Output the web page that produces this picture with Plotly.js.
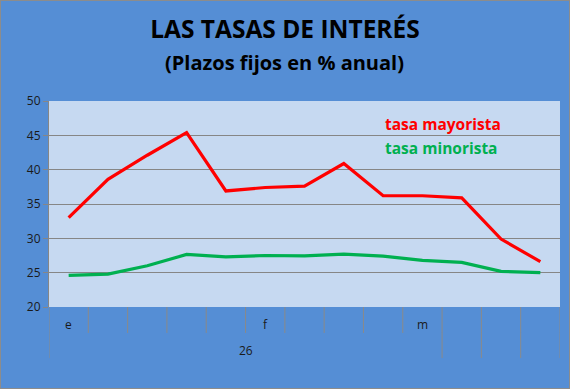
<!DOCTYPE html>
<html><head><meta charset="utf-8">
<script src="https://cdn.plot.ly/plotly-3.0.1.min.js"></script>
<style>body{margin:0;padding:0;}#wrap{position:relative;width:570px;height:389px;}#frame{position:absolute;left:0;top:0;width:570px;height:389px;box-sizing:border-box;border:1px solid #8c8c8c;pointer-events:none;}</style>
</head><body><div id="wrap"><div id="chart" style="width:570px;height:389px;"></div><div id="frame"></div></div>
<script>
const level1Labels = ["e","","","","","f","","","","m","","",""];
const level2Groups = [{label:"26", from:0, to:9},{label:"", from:10, to:10},{label:"", from:11, to:11},{label:"", from:12, to:12}];
const seriesNames = ["tasa mayorista","tasa minorista"];
const mayorista = [33.0,38.6,42.1,45.4,36.9,37.4,37.6,40.9,36.2,36.2,35.9,29.9,26.6];
const minorista = [24.6,24.8,26.0,27.65,27.3,27.5,27.45,27.7,27.4,26.8,26.5,25.2,25.0];
const colors = ["#FF0000","#00B050"];

const idx = level1Labels.map((_, i) => i);
const FONT = "Open Sans, Liberation Sans, sans-serif";

const traces = [
  {x: idx, y: mayorista, name: seriesNames[0], type: "scatter", mode: "lines", line: {color: colors[0], width: 3.2}},
  {x: idx, y: minorista, name: seriesNames[1], type: "scatter", mode: "lines", line: {color: colors[1], width: 3.2}}
];

const shapes = [];
const divColor = "#8a8a8a";
for (let i = 0; i <= level1Labels.length; i++) {
  shapes.push({type:"line", xref:"x", yref:"paper", x0:i-0.5, x1:i-0.5, y0:0, y1:-0.126, line:{color:divColor, width:1}});
}
const bounds = new Set();
level2Groups.forEach(g => { bounds.add(g.from - 0.5); bounds.add(g.to + 0.5); });
bounds.forEach(b => shapes.push({type:"line", xref:"x", yref:"paper", x0:b, x1:b, y0:-0.126, y1:-0.248, line:{color:divColor, width:1}}));

const annotations = [];
level1Labels.forEach((t, i) => { if (t) annotations.push({x:i, y:-0.085, xref:"x", yref:"paper", text:t, showarrow:false, font:{family:FONT, size:12, color:"#1a1a1a"}, yanchor:"middle"}); });
level2Groups.forEach(g => { if (g.label) annotations.push({x:(g.from+g.to)/2, y:-0.21, xref:"x", yref:"paper", text:g.label, showarrow:false, font:{family:FONT, size:12, color:"#1a1a1a"}, yanchor:"middle"}); });
annotations.push({x:0.654, y:0.888, xref:"paper", yref:"paper", xanchor:"left", yanchor:"middle", text:"<b>"+seriesNames[0]+"</b>", showarrow:false, font:{family:FONT, size:15.5, color:colors[0]}});
annotations.push({x:0.654, y:0.772, xref:"paper", yref:"paper", xanchor:"left", yanchor:"middle", text:"<b>"+seriesNames[1]+"</b>", showarrow:false, font:{family:FONT, size:15.5, color:colors[1]}});
annotations.push({x:(284-49)/511, y:(307-62)/206, xref:"paper", yref:"paper", xanchor:"center", yanchor:"middle", text:"<b>(Plazos fijos en % anual)</b>", showarrow:false, font:{family:FONT, size:20, color:"#000"}});

const layout = {
  width: 570, height: 389,
  margin: {l:49, r:10, t:101, b:82},
  paper_bgcolor: "#558ED5",
  plot_bgcolor: "#C6D9F1",
  showlegend: false,
  title: {text:"<b>LAS TASAS DE INTERÉS</b>", x:0.5, xanchor:"center", y:1-29/389, yanchor:"middle", yref:"container", font:{family:FONT, size:24.5, color:"#000"}},
  xaxis: {range:[-0.5, level1Labels.length-0.5], showticklabels:false, showgrid:false, zeroline:false, ticks:"", showline:false, fixedrange:true},
  yaxis: {range:[20,50], tickvals:[20,25,30,35,40,45,50], showgrid:true, gridcolor:"#868686", gridwidth:1, zeroline:false, showline:true, linecolor:"#868686", linewidth:1, ticks:"outside", ticklen:5, tickcolor:"#868686", tickfont:{family:FONT, size:12, color:"#1a1a1a"}, fixedrange:true},
  shapes: shapes,
  annotations: annotations
};
Plotly.newPlot("chart", traces, layout, {displayModeBar:false, staticPlot:true});
</script></body></html>
